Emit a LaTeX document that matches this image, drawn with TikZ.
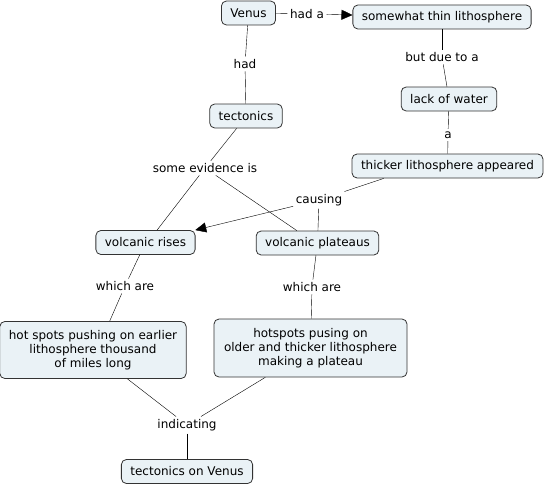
\documentclass[tikz,border=0pt]{standalone}
\usepackage{fontspec}
\setmainfont{DejaVu Sans}
\usepackage{xcolor}
\usepackage{tikz}
\usetikzlibrary{arrows.meta}
\definecolor{cfill}{RGB}{234,242,246}
\definecolor{cline}{RGB}{51,51,51}

\begin{document}
\begin{tikzpicture}[x=1pt, y=-1pt,
  every node/.style={font=\fontsize{12}{14}\selectfont},
  concept/.style={draw=cline, fill=cfill, line width=0.8pt, rounded corners=5pt,
    inner xsep=9pt, inner ysep=5pt, minimum height=24pt, align=center},
  linkword/.style={inner sep=2.5pt},
  arr/.style={-{Triangle[length=11pt, width=10pt]}}]
\useasboundingbox (0,0) rectangle (545,487);
% concepts
\node[concept] (venus) at (248.5,13) {Venus};
\node[concept] (thin) at (442,17) {somewhat thin lithosphere};
\node[concept] (tect) at (246,116) {tectonics};
\node[concept] (lack) at (449,99) {lack of water};
\node[concept] (thick) at (447.5,166) {thicker lithosphere appeared};
\node[concept] (rises) at (145.5,242.5) {volcanic rises};
\node[concept] (plat) at (317.5,243) {volcanic plateaus};
\node[concept, minimum height=57pt, minimum width=184pt] (hotL) at (93,350)
  {hot spots pushing on earlier\\lithosphere thousand\\of miles long};
\node[concept, minimum height=58pt, minimum width=193pt] (hotR) at (310.5,348)
  {hotspots pusing on\\older and thicker lithosphere\\making a plateau};
\node[concept] (tov) at (187,471.5) {tectonics on Venus};
% linking words
\node[linkword] (hada) at (307,14) {had a};
\node[linkword] (had) at (245,64) {had};
\node[linkword] (butdue) at (442,57) {but due to a};
\node[linkword] (a) at (448,135) {a};
\node[linkword] (evid) at (205,168) {some evidence is};
\node[linkword] (causing) at (319,200) {causing};
\node[linkword] (whichL) at (125,286) {which are};
\node[linkword] (whichR) at (312,287) {which are};
\node[linkword] (indic) at (187,425) {indicating};
% edges
\foreach \a/\b in {venus/had, had/tect, venus/hada, thin/butdue, butdue/lack,
    lack/a, a/thick, causing/plat, plat/whichR, whichR/hotR, indic/tov}
  \draw (\a) -- (\b);
\draw (tect.233) -- (evid);
\draw (evid) -- (rises.47);
\draw (evid) -- (plat.149);
\draw (thick.191) -- (causing);
\draw (rises.245) -- (whichL) -- (hotL.60);
\draw (hotL.320) -- (indic);
\draw (hotR.213) -- (indic);
% arrows
\draw[arr] (hada) -- (thin);
\draw[arr] (causing) -- (rises.14);
\end{tikzpicture}
\end{document}
